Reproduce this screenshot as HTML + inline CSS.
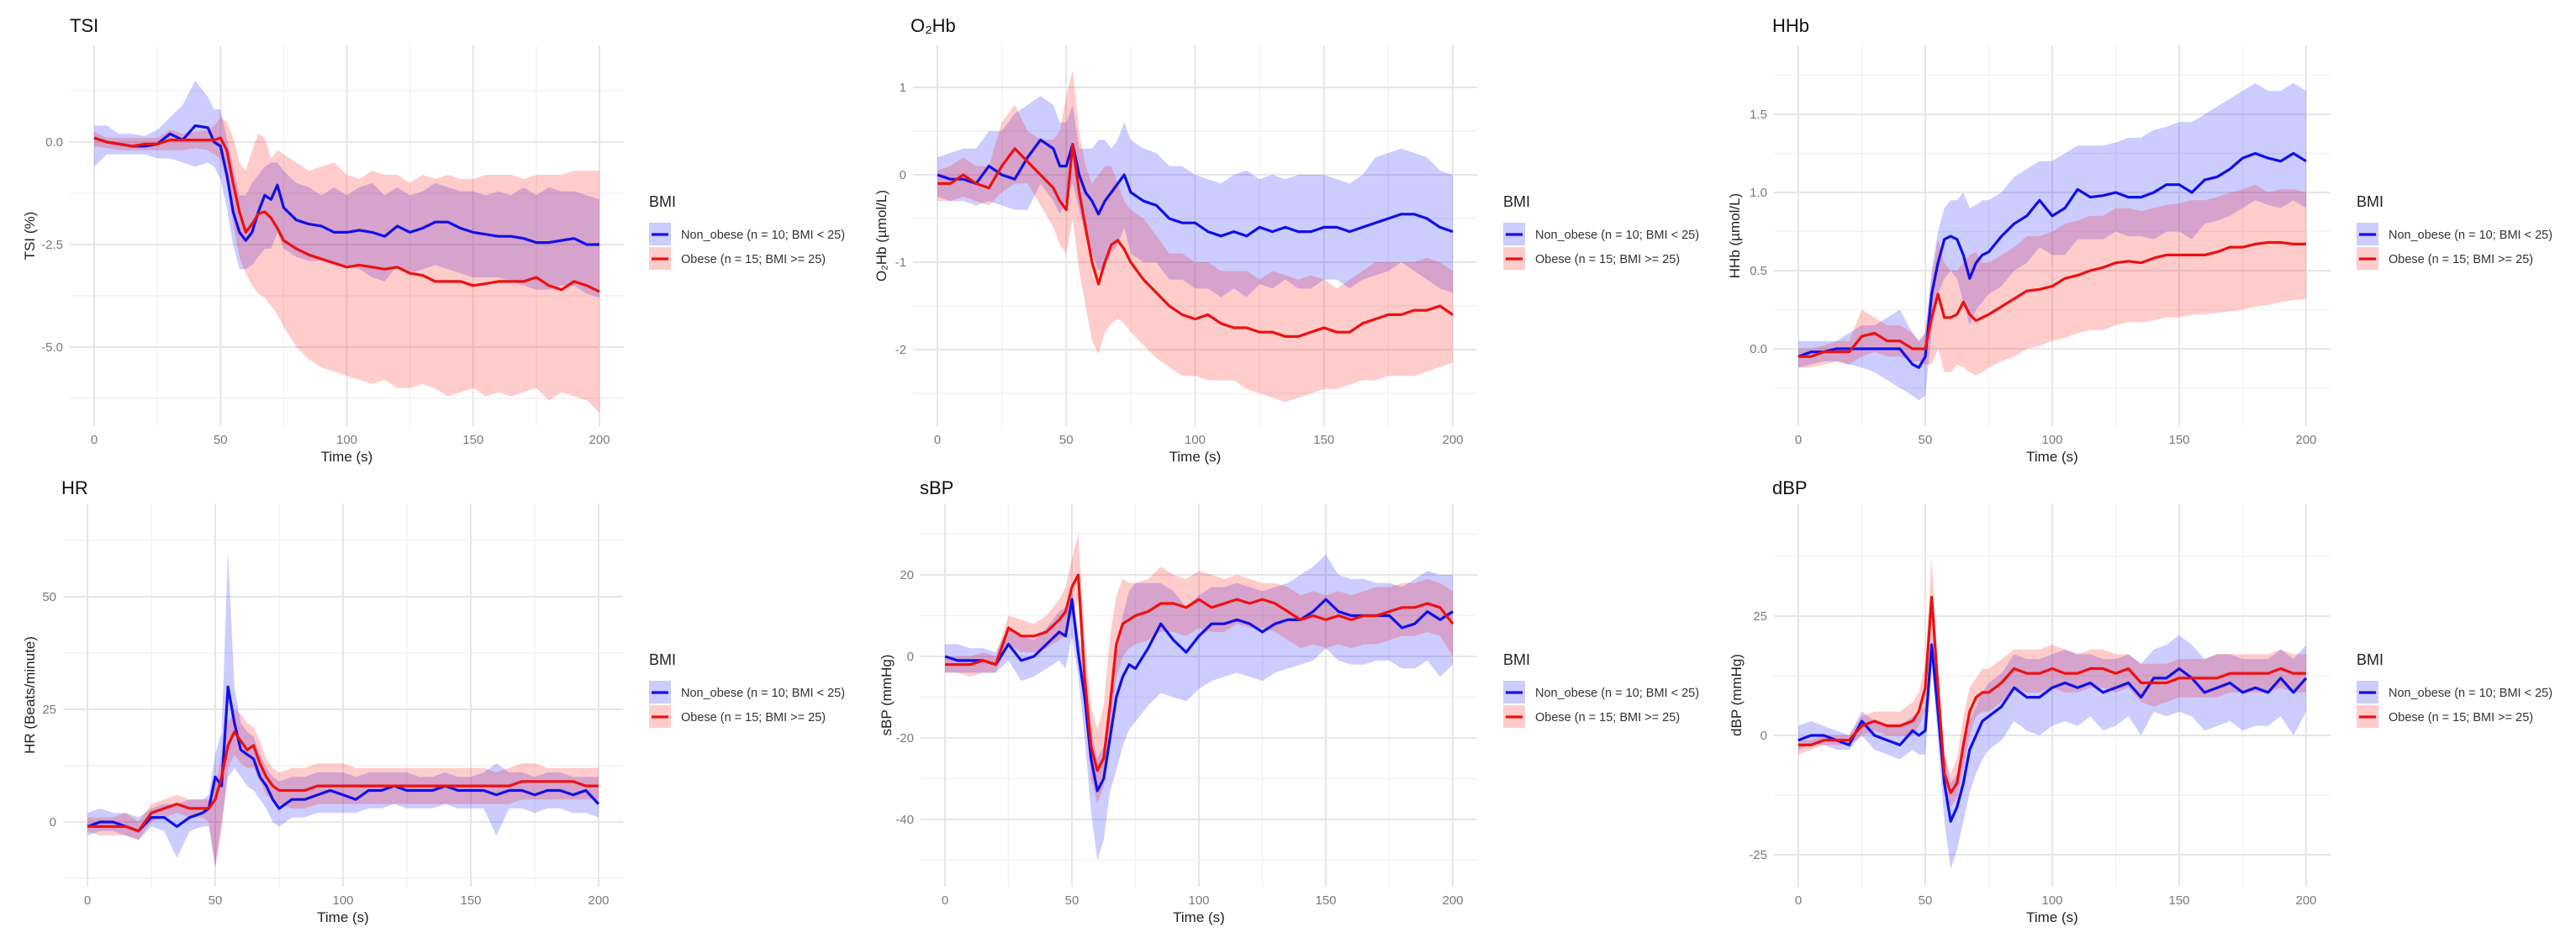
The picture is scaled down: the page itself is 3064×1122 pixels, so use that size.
<!DOCTYPE html>
<html><head><meta charset="utf-8">
<style>
html,body{margin:0;padding:0;background:#fff;}
svg{display:block;font-family:"Liberation Sans",sans-serif;}
</style></head>
<body>
<svg id="fig" width="3064" height="1122" viewBox="0 0 3064 1122" xmlns="http://www.w3.org/2000/svg"></svg>
<script>
const T = [0,5,10,15,20,25,30,35,40,45,47.5,50,52.5,55,57.5,60,62.5,65,67.5,70,72.5,75,80,85,90,95,100,105,110,115,120,125,130,135,140,145,150,155,160,165,170,175,180,185,190,195,200];
const xTicks = [0,50,100,150,200];

// TSI
const tsiNonMean = [0.1,0,-0.05,-0.1,-0.1,-0.05,0.2,0.05,0.4,0.35,0,-0.1,-0.8,-1.7,-2.2,-2.4,-2.2,-1.7,-1.3,-1.4,-1.05,-1.6,-1.9,-2,-2.05,-2.2,-2.2,-2.15,-2.2,-2.3,-2.05,-2.2,-2.1,-1.95,-1.95,-2.1,-2.2,-2.25,-2.3,-2.3,-2.35,-2.45,-2.45,-2.4,-2.35,-2.5,-2.5];
const tsiNonHi = [0.4,0.4,0.2,0.2,0.15,0.3,0.6,0.9,1.5,1.1,0.8,0.8,0.1,-0.6,-1.3,-1.3,-1,-0.8,-0.6,-0.5,-0.5,-0.7,-1,-1.1,-1.3,-1.1,-1.3,-1.1,-1,-1.3,-1.1,-1.3,-1.2,-1,-1.1,-1.2,-1.2,-1.3,-1.2,-1.3,-1.1,-1.3,-1.1,-1.2,-1.2,-1.3,-1.4];
const tsiNonLo = [-0.6,-0.3,-0.3,-0.3,-0.3,-0.4,-0.4,-0.5,-0.6,-0.5,-0.6,-0.9,-1.6,-2.5,-3.1,-3.1,-3,-2.8,-2.6,-2.6,-2.2,-2.6,-2.8,-2.9,-2.9,-3,-3,-3.1,-3.3,-3.4,-3,-3.2,-3.1,-3,-3.1,-3.2,-3.3,-3.3,-3.3,-3.4,-3.5,-3.6,-3.6,-3.5,-3.5,-3.7,-3.8];
const tsiObMean = [0.1,0,-0.05,-0.1,-0.05,-0.05,0.05,0.05,0.05,0.05,0.05,0.1,-0.2,-1,-1.7,-2.2,-2,-1.75,-1.7,-1.85,-2.1,-2.4,-2.6,-2.75,-2.85,-2.95,-3.05,-3,-3.05,-3.1,-3.05,-3.2,-3.25,-3.4,-3.4,-3.4,-3.5,-3.45,-3.4,-3.4,-3.4,-3.3,-3.5,-3.6,-3.4,-3.5,-3.65];
const tsiObHi = [0.25,0.1,0.1,0.1,0.1,0.1,0.3,0.2,0.25,0.3,0.4,0.6,0.5,0.1,-0.5,-0.7,-0.2,0.2,0.1,-0.4,-0.2,-0.3,-0.5,-0.7,-0.6,-0.5,-0.8,-0.9,-0.7,-0.8,-0.8,-1,-0.8,-0.9,-0.8,-0.9,-0.9,-0.8,-0.8,-0.8,-0.9,-0.8,-0.8,-0.8,-0.7,-0.7,-0.7];
const tsiObLo = [-0.1,-0.15,-0.2,-0.2,-0.2,-0.2,-0.2,-0.2,-0.15,-0.2,-0.3,-0.4,-1,-2,-2.8,-3.2,-3.5,-3.7,-3.8,-4,-4.2,-4.5,-5,-5.3,-5.5,-5.6,-5.7,-5.8,-5.9,-5.8,-6,-6,-5.9,-6,-6.2,-6.1,-6,-6.2,-6.1,-6.2,-6.1,-6,-6.3,-6.1,-6.2,-6.3,-6.6];

// O2Hb
const o2NonMean = [0,-0.05,-0.05,-0.1,0.1,0,-0.05,0.2,0.4,0.3,0.1,0.1,0.35,0,-0.2,-0.3,-0.45,-0.3,-0.2,-0.1,0,-0.2,-0.3,-0.35,-0.5,-0.55,-0.55,-0.65,-0.7,-0.65,-0.7,-0.6,-0.65,-0.6,-0.65,-0.65,-0.6,-0.6,-0.65,-0.6,-0.55,-0.5,-0.45,-0.45,-0.5,-0.6,-0.65];
const o2NonHi = [0.2,0.25,0.3,0.3,0.5,0.5,0.7,0.8,0.9,0.8,0.6,0.6,0.8,0.3,0.3,0.3,0.4,0.4,0.3,0.4,0.6,0.4,0.3,0.25,0.1,0.1,0,-0.05,-0.1,0,0.05,-0.05,0,-0.05,0,0,0,-0.05,-0.1,0,0.2,0.25,0.3,0.25,0.2,0.05,0];
const o2NonLo = [-0.25,-0.3,-0.3,-0.35,-0.3,-0.35,-0.4,-0.4,-0.1,-0.3,-0.45,-0.3,-0.1,-0.4,-0.7,-0.9,-1.1,-1.05,-0.9,-0.8,-0.6,-0.9,-1,-1,-1.2,-1.2,-1.3,-1.3,-1.4,-1.3,-1.4,-1.25,-1.3,-1.2,-1.3,-1.3,-1.2,-1.2,-1.3,-1.2,-1.15,-1.1,-1,-1.1,-1.2,-1.3,-1.35];
const o2ObMean = [-0.1,-0.1,0,-0.1,-0.15,0.1,0.3,0.15,0,-0.15,-0.3,-0.4,0.35,-0.2,-0.6,-1,-1.25,-1,-0.8,-0.75,-0.85,-1,-1.2,-1.35,-1.5,-1.6,-1.65,-1.6,-1.7,-1.75,-1.75,-1.8,-1.8,-1.85,-1.85,-1.8,-1.75,-1.8,-1.8,-1.7,-1.65,-1.6,-1.6,-1.55,-1.55,-1.5,-1.6];
const o2ObHi = [0.05,0.1,0.2,0.1,0.1,0.6,0.8,0.5,0.4,0.4,0.5,0.9,1.2,0.5,0.1,-0.1,0,0.1,0.1,-0.1,-0.3,-0.4,-0.5,-0.7,-0.9,-0.9,-1,-1,-1.1,-1.1,-1.1,-1.2,-1.1,-1.15,-1.2,-1.15,-1.2,-1.3,-1.2,-1.1,-1,-1,-1,-1,-0.95,-1,-1.1];
const o2ObLo = [-0.3,-0.3,-0.25,-0.3,-0.35,-0.2,-0.1,-0.1,-0.35,-0.6,-0.8,-0.9,-0.5,-1.1,-1.5,-1.9,-2.05,-1.8,-1.7,-1.65,-1.7,-1.8,-1.95,-2.1,-2.2,-2.3,-2.3,-2.35,-2.35,-2.35,-2.45,-2.5,-2.55,-2.6,-2.55,-2.5,-2.45,-2.45,-2.4,-2.35,-2.35,-2.3,-2.3,-2.3,-2.25,-2.2,-2.15];

// HHb
const hhbNonMean = [-0.05,-0.02,-0.02,0,0,0,0,0,0,-0.1,-0.12,-0.05,0.35,0.55,0.7,0.72,0.7,0.6,0.45,0.55,0.6,0.62,0.72,0.8,0.85,0.95,0.85,0.9,1.02,0.97,0.98,1,0.97,0.97,1,1.05,1.05,1,1.08,1.1,1.15,1.22,1.25,1.22,1.2,1.25,1.2];
const hhbNonHi = [0.05,0.05,0.05,0.05,0.1,0.15,0.15,0.2,0.25,0.1,0.05,0.1,0.5,0.75,0.9,0.95,0.95,1,0.9,0.92,0.95,0.95,1,1.1,1.15,1.2,1.2,1.25,1.3,1.3,1.3,1.32,1.35,1.35,1.4,1.42,1.45,1.45,1.5,1.55,1.6,1.65,1.7,1.65,1.65,1.7,1.65];
const hhbNonLo = [-0.12,-0.1,-0.08,-0.08,-0.1,-0.12,-0.15,-0.2,-0.25,-0.3,-0.33,-0.3,0.1,0.35,0.45,0.5,0.45,0.3,0.15,0.25,0.3,0.35,0.4,0.5,0.55,0.65,0.6,0.6,0.7,0.7,0.7,0.75,0.72,0.72,0.7,0.75,0.75,0.7,0.8,0.82,0.85,0.9,0.95,0.92,0.9,0.95,0.9];
const hhbObMean = [-0.05,-0.05,-0.02,-0.02,-0.02,0.08,0.1,0.05,0.05,0,0,0,0.2,0.35,0.2,0.2,0.22,0.3,0.22,0.18,0.2,0.22,0.27,0.32,0.37,0.38,0.4,0.45,0.47,0.5,0.52,0.55,0.56,0.55,0.58,0.6,0.6,0.6,0.6,0.62,0.65,0.65,0.67,0.68,0.68,0.67,0.67];
const hhbObHi = [0,0,0.02,0.05,0.05,0.25,0.2,0.15,0.15,0.1,0.05,0.1,0.45,0.7,0.55,0.5,0.5,0.55,0.6,0.62,0.55,0.55,0.6,0.65,0.72,0.72,0.75,0.8,0.82,0.85,0.85,0.9,0.9,0.88,0.9,0.92,0.93,0.95,0.95,0.97,1,1.02,1.05,1,1.02,1.02,1];
const hhbObLo = [-0.12,-0.12,-0.1,-0.08,-0.1,-0.05,-0.02,-0.05,-0.05,-0.08,-0.08,-0.1,-0.1,0,-0.15,-0.15,-0.1,-0.12,-0.15,-0.17,-0.15,-0.12,-0.08,-0.05,0,0.02,0.05,0.07,0.1,0.12,0.12,0.15,0.17,0.17,0.18,0.2,0.2,0.22,0.22,0.23,0.24,0.25,0.27,0.28,0.3,0.31,0.32];

// HR
const hrNonMean = [-1,0,0,-1,-2,1,1,-1,1,2,3,10,8,30,22,16,15,14,10,8,5,3,5,5,6,7,6,5,7,7,8,7,7,7,8,7,7,7,6,7,7,6,7,7,6,7,4];
const hrNonHi = [2,3,2,2,1,3,4,4,5,5,6,15,20,60,30,22,20,19,15,12,10,9,10,10,11,11,11,10,11,11,11,11,10,10,11,10,10,11,13,11,11,10,11,11,10,10,10];
const hrNonLo = [-3,-2,-2,-3,-4,-1,-2,-8,-2,-1,-1,-10,0,10,12,10,8,7,5,3,0,-1,1,1,2,2,2,2,3,3,4,3,3,3,4,3,3,3,-3,3,3,2,3,3,2,2,1];
const hrObMean = [-1,-1,-1,-1,-2,2,3,4,3,3,3,5,10,17,20,18,16,17,13,10,8,7,7,7,8,8,8,8,8,8,8,8,8,8,8,8,8,8,8,8,9,9,9,9,9,8,8];
const hrObHi = [1,1,1,2,0,4,5,6,5,5,5,8,15,22,25,24,22,21,18,14,12,11,12,12,13,13,13,12,12,12,12,12,12,12,12,12,12,12,11,12,13,13,12,12,12,12,12];
const hrObLo = [-2,-3,-3,-3,-4,0,1,2,1,1,0,-10,-2,12,15,13,12,12,9,6,5,4,3,3,4,4,4,4,4,4,4,4,4,4,4,4,4,4,4,4,5,5,5,5,5,5,5];

// sBP
const sbpNonMean = [0,-1,-1,-1,-2,3,-1,0,3,6,5,14,1,-10,-25,-33,-30,-20,-10,-5,-2,-3,2,8,4,1,5,8,8,9,8,6,8,9,9,11,14,11,10,10,10,10,7,8,11,9,11];
const sbpNonHi = [3,3,2,2,1,7,5,4,7,11,12,17,6,-3,-18,-25,-22,-12,0,10,16,18,18,18,16,12,15,17,17,18,17,16,17,18,20,22,25,20,19,19,18,18,17,19,21,20,20];
const sbpNonLo = [-4,-4,-4,-4,-4,-1,-6,-5,-3,-1,-3,5,-5,-20,-38,-50,-45,-33,-28,-22,-18,-16,-12,-9,-10,-11,-8,-6,-5,-4,-5,-6,-4,-3,-2,-1,2,-1,-2,-2,-1,-1,-3,-3,-1,-5,-2];
const sbpObMean = [-2,-2,-2,-1,-2,7,5,5,6,9,11,17,20,-5,-22,-28,-25,-12,3,8,9,10,11,13,13,12,14,12,13,14,13,14,13,11,9,10,9,10,9,10,10,11,12,12,13,12,8];
const sbpObHi = [0,0,0,1,0,10,9,8,10,14,17,24,30,5,-12,-18,-12,5,15,19,18,18,19,22,20,19,21,20,19,20,19,18,18,17,15,16,15,16,15,16,17,17,18,18,19,18,16];
const sbpObLo = [-4,-4,-5,-4,-4,3,1,1,2,4,5,10,14,-12,-30,-36,-32,-18,-5,0,2,3,4,6,6,5,7,6,6,8,7,7,6,4,2,3,2,3,2,3,3,4,5,5,6,5,0];

// dBP
const dbpNonMean = [-1,0,0,-1,-2,3,0,-1,-2,1,0,1,19,5,-10,-18,-15,-10,-3,0,3,4,6,10,8,8,10,11,10,11,9,10,11,8,12,12,14,12,9,10,11,9,10,9,12,9,12];
const dbpNonHi = [2,3,2,1,0,5,3,2,2,4,4,6,22,10,-4,-10,-8,-3,3,6,9,11,13,17,16,16,17,18,17,17,16,16,17,15,18,19,21,19,16,17,17,16,16,16,18,16,19];
const dbpNonLo = [-3,-2,-2,-3,-3,0,-3,-4,-5,-3,-4,-4,15,-1,-18,-28,-24,-18,-12,-8,-5,-3,-1,3,1,0,2,3,2,4,1,2,4,0,5,4,5,4,1,2,3,1,2,2,4,0,5];
const dbpObMean = [-2,-2,-1,-1,-1,2,3,2,2,3,5,10,29,10,-8,-12,-10,-2,5,8,9,9,11,14,13,13,14,13,13,14,14,13,14,11,11,11,12,12,12,12,13,13,13,13,14,13,13];
const dbpObHi = [-1,-1,0,0,0,4,5,5,5,7,9,15,37,14,-4,-8,-5,4,10,12,14,14,16,18,18,18,19,18,17,18,18,17,17,15,15,15,16,16,16,17,17,17,17,17,18,17,17];
const dbpObLo = [-4,-3,-2,-2,-2,0,1,0,0,0,2,5,22,4,-12,-15,-13,-7,0,4,5,5,7,10,9,9,10,9,9,10,10,9,10,7,6,7,8,8,8,8,9,9,9,9,10,9,9];

const tsiTicks = [0,-2.5,-5], tsiTickLabels = ["0.0","-2.5","-5.0"];
const o2Ticks = [1,0,-1,-2], o2TickLabels = ["1","0","-1","-2"];
const hhbTicks = [0,0.5,1,1.5], hhbTickLabels = ["0.0","0.5","1.0","1.5"];
const hrTicks = [0,25,50], hrTickLabels = ["0","25","50"];
const sbpTicks = [-40,-20,0,20], sbpTickLabels = ["-40","-20","0","20"];
const dbpTicks = [-25,0,25], dbpTickLabels = ["-25","0","25"];

const NS = "http://www.w3.org/2000/svg";
const svg = document.getElementById('fig');
function mk(tag, attrs, parent){
  const e = document.createElementNS(NS, tag);
  for (const k in attrs) e.setAttribute(k, attrs[k]);
  (parent||svg).appendChild(e);
  return e;
}
function txt(str, attrs, parent){ const e = mk('text', attrs, parent); e.textContent = str; return e; }

const panels = [
 {id:'tsi', title:'TSI', ytitle:'TSI (%)', x0:112, x1:713, top:54, bot:507, v0:0, p0:169, v1:-2.5, p1:291, ticks:tsiTicks, labels:tsiTickLabels, minorStep:1.25, ytx:35, lx:772, ty:38,
  nm:tsiNonMean, nh:tsiNonHi, nl:tsiNonLo, om:tsiObMean, oh:tsiObHi, ol:tsiObLo, tx:83},
 {id:'o2hb', title:'O₂Hb', ytitle:'O₂Hb (µmol/L)', x0:1115, x1:1728, top:54, bot:507, v0:0, p0:208, v1:1, p1:104, ticks:o2Ticks, labels:o2TickLabels, minorStep:0.5, ytx:1048, lx:1788, ty:38,
  nm:o2NonMean, nh:o2NonHi, nl:o2NonLo, om:o2ObMean, oh:o2ObHi, ol:o2ObLo, tx:1083},
 {id:'hhb', title:'HHb', ytitle:'HHb (µmol/L)', x0:2139, x1:2743, top:54, bot:507, v0:0, p0:415, v1:1.5, p1:136, ticks:hhbTicks, labels:hhbTickLabels, minorStep:0.25, ytx:2063, lx:2803, ty:38,
  nm:hhbNonMean, nh:hhbNonHi, nl:hhbNonLo, om:hhbObMean, oh:hhbObHi, ol:hhbObLo, tx:2108},
 {id:'hr', title:'HR', ytitle:'HR (Beats/minute)', x0:104, x1:712, top:599, bot:1055, v0:0, p0:978, v1:25, p1:844, ticks:hrTicks, labels:hrTickLabels, minorStep:12.5, ytx:35, lx:772, ty:588,
  nm:hrNonMean, nh:hrNonHi, nl:hrNonLo, om:hrObMean, oh:hrObHi, ol:hrObLo, tx:73},
 {id:'sbp', title:'sBP', ytitle:'sBP (mmHg)', x0:1124, x1:1728, top:599, bot:1055, v0:0, p0:781, v1:20, p1:684, ticks:sbpTicks, labels:sbpTickLabels, minorStep:10, ytx:1054, lx:1788, ty:588,
  nm:sbpNonMean, nh:sbpNonHi, nl:sbpNonLo, om:sbpObMean, oh:sbpObHi, ol:sbpObLo, tx:1094},
 {id:'dbp', title:'dBP', ytitle:'dBP (mmHg)', x0:2139, x1:2743, top:599, bot:1055, v0:0, p0:875, v1:25, p1:733, ticks:dbpTicks, labels:dbpTickLabels, minorStep:12.5, ytx:2065, lx:2803, ty:588,
  nm:dbpNonMean, nh:dbpNonHi, nl:dbpNonLo, om:dbpObMean, oh:dbpObHi, ol:dbpObLo, tx:2108}
];

panels.forEach(P => {
  const g = mk('g', {});
  
  
  const xs = t => P.x0 + (t/200)*(P.x1-P.x0);
  const k = (P.p1-P.p0)/(P.v1-P.v0);
  const ys = v => P.p0 + (v-P.v0)*k;
  const vTop = P.v0 + (P.top-P.p0)/k, vBot = P.v0 + (P.bot-P.p0)/k;
  const vmin = Math.min(vTop,vBot), vmax = Math.max(vTop,vBot);
  const gl = P.x0-29, gr = P.x1+29;
  // minor horizontal grid
  const s = P.minorStep;
  for (let v = Math.ceil(vmin/s)*s; v <= vmax; v += s) {
    const l = mk('line', {x1:gl, x2:gr, y1:ys(v), y2:ys(v), stroke:'#f2f2f2', 'stroke-width':1.5}, g);
    
    
  }
  for (let t = 25; t <= 200; t += 50) {
    const l = mk('line', {x1:xs(t), x2:xs(t), y1:P.top, y2:P.bot, stroke:'#f2f2f2', 'stroke-width':1.5}, g);
    
    
  }
  P.ticks.forEach((v,i) => {
    const l = mk('line', {x1:gl, x2:gr, y1:ys(v), y2:ys(v), stroke:'#e6e6e6', 'stroke-width':2}, g);
    
    
    const tl = txt(P.labels[i], {x:gl-8, y:ys(v)+5, 'text-anchor':'end', 'font-size':15, fill:'#7a7a7a'}, g);
    
    
  });
  xTicks.forEach(t => {
    const l = mk('line', {x1:xs(t), x2:xs(t), y1:P.top, y2:P.bot, stroke:'#e6e6e6', 'stroke-width':2}, g);
    
    
    const tl = txt(String(t), {x:xs(t), y:P.bot+21, 'text-anchor':'middle', 'font-size':15, fill:'#7a7a7a'}, g);
    
    
  });
  // bands
  function band(hi, lo, color, name){
    let d = '';
    T.forEach((t,i) => { d += (i?'L':'M') + xs(t).toFixed(1) + ',' + ys(hi[i]).toFixed(1); });
    for (let i = T.length-1; i >= 0; i--) d += 'L' + xs(T[i]).toFixed(1) + ',' + ys(lo[i]).toFixed(1);
    const p = mk('path', {d:d+'Z', fill:color, 'fill-opacity':0.2}, g);
    
    
  }
  function line(m, color, name){
    let d = '';
    T.forEach((t,i) => { d += (i?'L':'M') + xs(t).toFixed(1) + ',' + ys(m[i]).toFixed(1); });
    const p = mk('path', {d:d, fill:'none', stroke:color, 'stroke-width':3.2, 'stroke-linejoin':'round'}, g);
    
    
  }
  band(P.nh, P.nl, '#0000ff', 'non-obese-ci-band');
  band(P.oh, P.ol, '#ff0000', 'obese-ci-band');
  line(P.nm, '#1010e8', 'non-obese-mean-line');
  line(P.om, '#ee1010', 'obese-mean-line');
  // titles
  const tt = txt(P.title, {x:P.tx, y:P.ty, 'font-size':22, fill:'#111'}, g);
  
  
  const xt = txt('Time (s)', {x:(P.x0+P.x1)/2, y:P.bot+42, 'text-anchor':'middle', 'font-size':17, fill:'#222'}, g);
  
  
  const yc = (P.top+P.bot)/2;
  const yt = txt(P.ytitle, {x:P.ytx, y:yc, 'text-anchor':'middle', 'font-size':17, fill:'#222', transform:'rotate(-90 '+P.ytx+' '+yc+')', dy:6}, g);
  
  
  // legend
  const lg = mk('g', {}, g);
  
  
  const by = P.top + 192;
  const lt = txt('BMI', {x:P.lx, y:by, 'font-size':18, fill:'#222'}, lg);
  
  
  [['Non_obese (n = 10; BMI < 25)', '#0000ff', '#1010e8', by+33],
   ['Obese (n = 15; BMI >= 25)', '#ff0000', '#ee1010', by+62]].forEach(([label, fc, lc, cy]) => {
    const e = mk('g', {}, lg);
    
    
    mk('rect', {x:P.lx, y:cy-14, width:26, height:27, fill:fc, 'fill-opacity':0.2}, e);
    mk('line', {x1:P.lx+3, x2:P.lx+23, y1:cy, y2:cy, stroke:lc, 'stroke-width':3.2}, e);
    txt(label, {x:P.lx+38, y:cy+5, 'font-size':14.5, fill:'#333'}, e);
  });
});
</script>
</body></html>
